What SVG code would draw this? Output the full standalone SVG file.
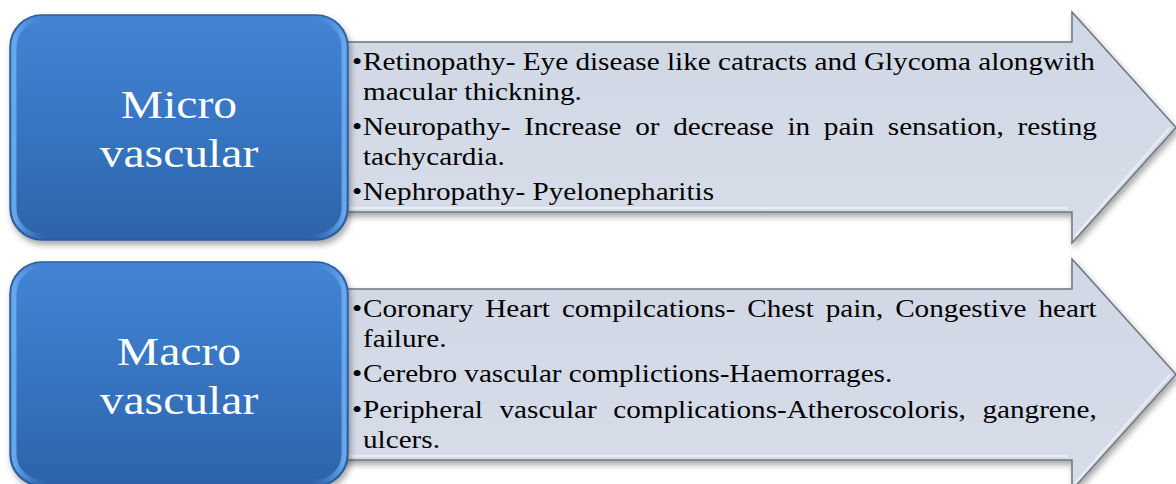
<svg xmlns="http://www.w3.org/2000/svg" width="1176" height="484" viewBox="0 0 1176 484">
<style>
.body{font-family:"Liberation Serif","Times New Roman",serif;font-size:25px;fill:#000}
.title{font-family:"Liberation Serif","Times New Roman",serif;font-size:40px;fill:#fff;text-anchor:middle}
.arrow{fill:url(#arrowFill);stroke:#6f757e;stroke-width:1.5}
.arrowBevel{fill:none;stroke:#f2f5fa;stroke-width:2;opacity:.7}
.box{fill:url(#boxFill);stroke:#2b5c9c;stroke-width:1.5}
.boxBevel{fill:none;stroke:url(#bevelStroke);stroke-width:5}
</style>
<defs>
<linearGradient id="boxFill" x1="0" y1="0" x2="0" y2="1">
<stop offset="0" stop-color="#4384d4"/>
<stop offset="0.5" stop-color="#3775c2"/>
<stop offset="1" stop-color="#2d63a8"/>
</linearGradient>
<linearGradient id="bevelStroke" x1="0" y1="0" x2="1" y2="0">
<stop offset="0" stop-color="#6aa8ee"/>
<stop offset="0.1" stop-color="#3f7fcf" stop-opacity="0"/>
<stop offset="0.9" stop-color="#3f7fcf" stop-opacity="0"/>
<stop offset="1" stop-color="#6aa8ee"/>
</linearGradient>
<linearGradient id="arrowFill" x1="0" y1="0" x2="0" y2="1">
<stop offset="0" stop-color="#d1d8e5"/>
<stop offset="1" stop-color="#d6dde9"/>
</linearGradient>
<filter id="shadow" x="-10%" y="-10%" width="125%" height="130%">
<feDropShadow dx="2" dy="4" stdDeviation="3" flood-color="#000" flood-opacity="0.35"/>
</filter>
</defs>

<g id="connectors"></g>

<g id="micro-list">
<path class="arrow" filter="url(#shadow)" d="M330,42 H1072 V12 L1176,127.5 L1072,243 V212 H330 Z"/>
<path class="arrowBevel" d="M335,208 H1068 M1075,236 L1170,127.5"/>
<g transform="scale(1.168 1)">
<text class="body" x="301.4" y="70">•</text>
<text class="body" x="310.8" y="70">Retinopathy- Eye disease like catracts and Glycoma alongwith</text>
<text class="body" x="310.8" y="100">macular thickning.</text>
<text class="body" x="301.4" y="135">•</text>
<text class="body" x="310.8" y="135" word-spacing="5.5">Neuropathy- Increase or decrease in pain sensation, resting</text>
<text class="body" x="310.8" y="165">tachycardia.</text>
<text class="body" x="301.4" y="200">•</text>
<text class="body" x="310.8" y="200">Nephropathy- Pyelonepharitis</text>
</g>
</g>

<g id="micro">
<rect class="box" filter="url(#shadow)" x="10" y="15" width="338" height="225" rx="32" ry="32"/>
<rect class="boxBevel" x="14" y="19" width="330" height="217" rx="28" ry="28"/>
<g transform="scale(1.19 1)">
<text class="title" x="150.4" y="118">Micro</text>
<text class="title" x="150.4" y="167">vascular</text>
</g>
</g>

<g id="macro-list">
<path class="arrow" filter="url(#shadow)" d="M330,289 H1072 V259 L1176,374.5 L1072,490 V460 H330 Z"/>
<path class="arrowBevel" d="M335,456 H1068 M1075,483 L1170,374.5"/>
<g transform="scale(1.168 1)">
<text class="body" x="301.4" y="317">•</text>
<text class="body" x="310.8" y="317" word-spacing="3.95">Coronary Heart compilcations- Chest pain, Congestive heart</text>
<text class="body" x="310.8" y="347">failure.</text>
<text class="body" x="301.4" y="382">•</text>
<text class="body" x="310.8" y="382">Cerebro vascular complictions-Haemorrages.</text>
<text class="body" x="301.4" y="418">•</text>
<text class="body" x="310.8" y="418" word-spacing="7.9">Peripheral vascular complications-Atheroscoloris, gangrene,</text>
<text class="body" x="310.8" y="448">ulcers.</text>
</g>
</g>

<g id="macro">
<rect class="box" filter="url(#shadow)" x="10" y="262" width="338" height="224" rx="32" ry="32"/>
<rect class="boxBevel" x="14" y="266" width="330" height="216" rx="28" ry="28"/>
<g transform="scale(1.19 1)">
<text class="title" x="150.4" y="365">Macro</text>
<text class="title" x="150.4" y="414">vascular</text>
</g>
</g>
</svg>
